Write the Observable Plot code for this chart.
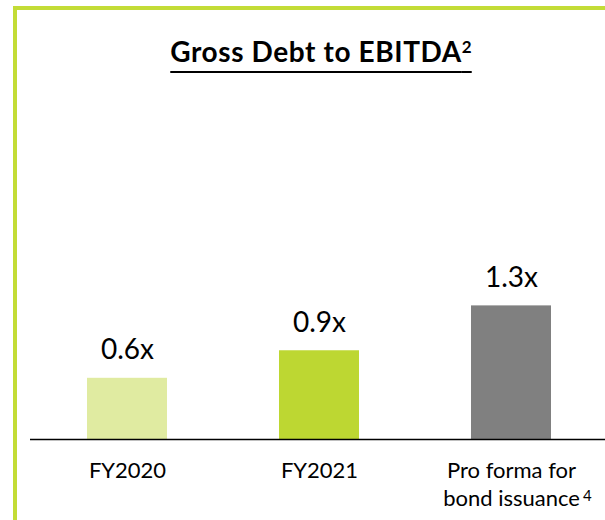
<!DOCTYPE html>
<html>
<head>
<meta charset="utf-8">
<script src="https://cdn.jsdelivr.net/npm/d3@7"></script>
<script src="https://cdn.jsdelivr.net/npm/@observablehq/plot@0.6"></script>
<style>
  html, body { margin: 0; padding: 0; background: #fff; }
  #wrap { position: relative; width: 605px; height: 520px; overflow: hidden; font-family: Lato, sans-serif; color: #000; }
  #frame { position: absolute; left: 13px; top: 6px; right: -20px; bottom: -20px;
           border-left: 4px solid #c3dc36; border-top: 4px solid #c3dc36; }
  #title { position: absolute; left: 0; width: 642px; top: 37px; text-align: center;
           font-size: 28px; line-height: 28px; font-weight: 700; white-space: nowrap; letter-spacing: 0.6px; }
  #title .t { text-decoration: underline; text-decoration-thickness: 2px; text-underline-offset: 9px; }
  #title .sup { font-size: 17px; vertical-align: 9px; line-height: 0; letter-spacing: 0; }
  #chart { position: absolute; left: 0; top: 0; }
</style>
</head>
<body>
<div id="wrap">
  <div id="frame"></div>
  <div id="title"><span class="t">Gross Debt to EBITDA<span class="sup">2</span></span></div>
  <div id="chart"></div>
</div>
<script>
// ---- data ----
const categories = ["FY2020", "FY2021", "Pro forma for\nbond issuance"];
const values = [0.60, 0.87, 1.31];
const valueLabels = ["0.6x", "0.9x", "1.3x"];
const barColors = ["#e0eba1", "#bdd732", "#808080"];
const footnotes = ["", "", "4"];
const yDomain = [0, 1.5];

const data = categories.map((c, i) => ({
  category: c, value: values[i], label: valueLabels[i], color: barColors[i], note: footnotes[i]
}));
const noted = data.filter(d => d.note);

// measure last line of category label to place footnote superscript
const labelFont = 22;
const ctx = document.createElement("canvas").getContext("2d");
ctx.font = `${labelFont}px Lato`;
const lastLine = s => s.split("\n").slice(-1)[0];
const halfW = d => ctx.measureText(lastLine(d.category)).width / 2;
const noteDx = noted.length ? halfW(noted[0]) + 3 : 0;

const chart = Plot.plot({
  width: 605,
  height: 520,
  marginLeft: 30,
  marginRight: 0,
  marginTop: 0,
  marginBottom: 81,
  style: { fontFamily: "Lato, sans-serif", background: "transparent", overflow: "visible", color: "#000" },
  x: { domain: categories, range: [30.3, 607.8], paddingInner: 0.584, paddingOuter: 0.292, axis: null },
  y: { domain: yDomain, range: [439, 286], axis: null },
  color: { type: "identity" },
  marks: [
    Plot.barY(data, { x: "category", y: "value", fill: "color" }),
    Plot.ruleY([0], { stroke: "#000", strokeWidth: 1.5 }),
    Plot.text(data, { x: "category", y: "value", text: "label", lineAnchor: "bottom", dy: -19, fontSize: 28 }),
    Plot.text(data, { x: "category", y: () => 0, text: "category", lineAnchor: "top", dy: 18, fontSize: labelFont, lineHeight: 1.3 }),
    Plot.text(noted, { x: "category", y: () => 0, text: "note", textAnchor: "start", lineAnchor: "bottom", dx: noteDx, dy: 61, fontSize: 15 })
  ]
});
document.getElementById("chart").appendChild(chart);
</script>
</body>
</html>
